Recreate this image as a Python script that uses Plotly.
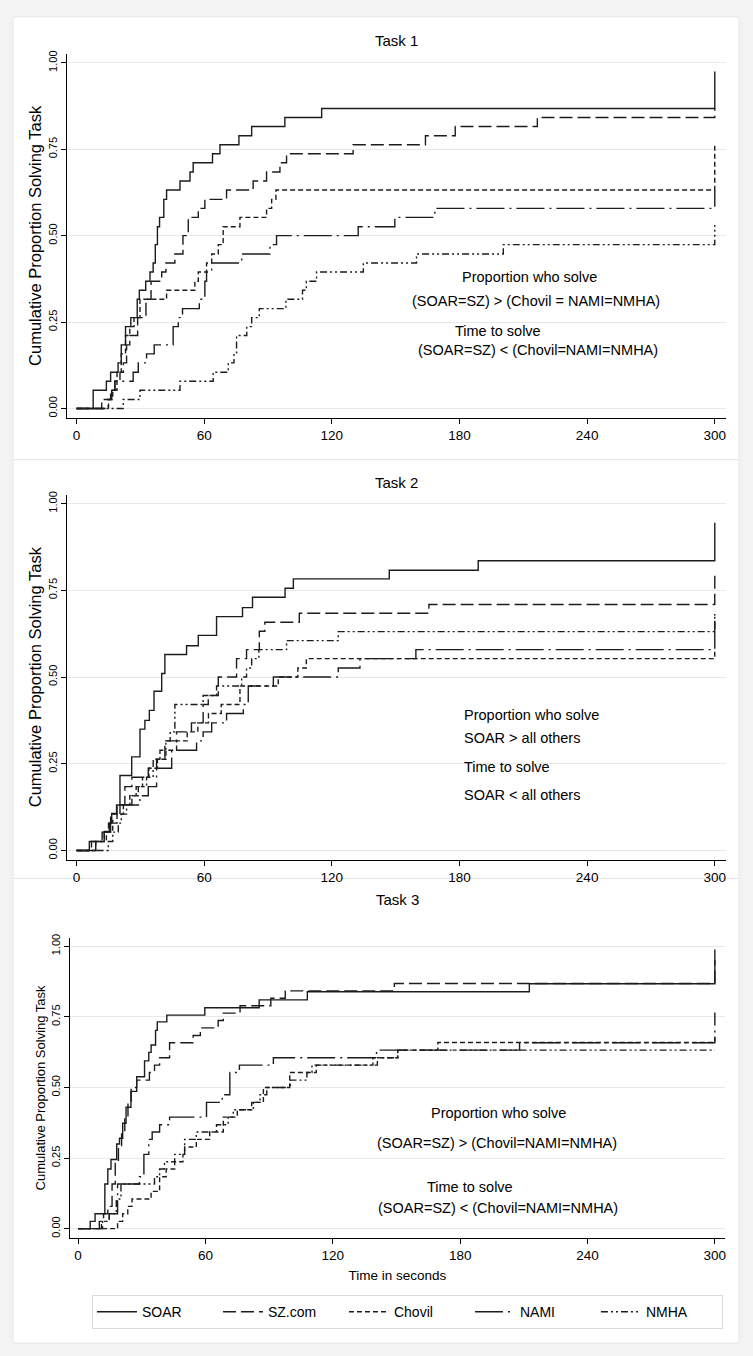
import plotly.graph_objects as go

W, H = 753, 1356
FONT = "Liberation Sans, Arial, sans-serif"
INK = "#1c1c1c"

def fx(px):
    return px / W

def fy(py):
    return 1 - py / H

SERIES = ["SOAR", "SZ.com", "Chovil", "NAMI", "NMHA"]
X_TICKS = [0, 60, 120, 180, 240, 300]
Y_TICKS = [0, 0.25, 0.5, 0.75, 1.0]
Y_TICK_TEXT = ["0.00", "0.25", "0.50", "0.75", "1.00"]
PANEL_TITLES = ["Task 1", "Task 2", "Task 3"]

# ---------------- Task 1 ----------------
T1_SOAR_t = [0, 7.8, 14, 16, 19.5, 21, 23, 25.5, 28.5, 29.5, 32.5, 34.5, 36, 37, 38, 39, 41, 42.3, 48.6, 53.3, 54.8, 63.9, 67.4, 76.3, 82.3, 97.9, 115.2, 300]
T1_SOAR_p = [0, 0.053, 0.079, 0.105, 0.132, 0.184, 0.237, 0.263, 0.316, 0.342, 0.368, 0.395, 0.421, 0.474, 0.526, 0.553, 0.605, 0.632, 0.658, 0.684, 0.711, 0.737, 0.763, 0.789, 0.816, 0.842, 0.868, 0.975]
T1_SZ_t = [0, 11.8, 16, 18, 20.4, 22, 23.5, 25, 28.7, 32.6, 35, 40, 42, 46.2, 50, 52.5, 57.2, 60.3, 70.5, 83, 89.3, 95.6, 98.7, 130, 164, 178, 216.6, 300]
T1_SZ_p = [0, 0.026, 0.053, 0.079, 0.105, 0.132, 0.184, 0.211, 0.263, 0.316, 0.368, 0.395, 0.421, 0.447, 0.5, 0.553, 0.579, 0.605, 0.632, 0.658, 0.684, 0.711, 0.737, 0.763, 0.789, 0.816, 0.842, 0.868]
T1_CH_t = [0, 15, 17, 19, 21, 23, 25, 27, 29.8, 42.3, 55.6, 57.2, 61.1, 63.5, 66.6, 68.9, 76.8, 89.3, 91.7, 93.7, 300]
T1_CH_p = [0, 0.026, 0.053, 0.105, 0.158, 0.211, 0.237, 0.263, 0.316, 0.342, 0.368, 0.395, 0.421, 0.447, 0.474, 0.526, 0.553, 0.579, 0.605, 0.632, 0.766]
T1_NA_t = [0, 14.9, 16.5, 18, 26.6, 29, 32.9, 36.5, 45.4, 47.8, 49.8, 57.7, 60.3, 61.1, 63.5, 77.6, 90.9, 94, 132.4, 149.6, 168.4, 300]
T1_NA_p = [0, 0.026, 0.053, 0.079, 0.105, 0.132, 0.158, 0.184, 0.237, 0.263, 0.289, 0.316, 0.368, 0.395, 0.421, 0.447, 0.474, 0.5, 0.526, 0.553, 0.579, 0.632]
T1_NM_t = [0, 21.9, 29.8, 48.6, 64.2, 71.3, 74, 75.2, 80, 82.3, 85.9, 98.4, 106.2, 108, 112.8, 134.8, 159.8, 200.6, 300]
T1_NM_p = [0, 0.026, 0.053, 0.079, 0.105, 0.132, 0.158, 0.211, 0.237, 0.263, 0.289, 0.316, 0.342, 0.368, 0.395, 0.421, 0.447, 0.474, 0.531]

# ---------------- Task 2 ----------------
T2_SOAR_t = [0, 6, 13, 15.4, 16.5, 18.8, 20.4, 25.9, 29.8, 32.1, 34.2, 36.4, 40, 41.5, 51.7, 57.2, 65.8, 78, 82.7, 98, 101.9, 147, 188.8, 300]
T2_SOAR_p = [0, 0.026, 0.055, 0.079, 0.107, 0.131, 0.216, 0.27, 0.35, 0.375, 0.404, 0.459, 0.51, 0.565, 0.59, 0.62, 0.674, 0.70, 0.73, 0.756, 0.783, 0.808, 0.835, 0.945]
T2_SZ_t = [0, 7, 12, 15, 17, 19, 22.7, 26, 33.7, 37.6, 41.5, 47, 54, 59.5, 61.9, 66.6, 75.2, 79.9, 85.9, 88.5, 104.7, 165.6, 300]
T2_SZ_p = [0, 0.026, 0.053, 0.079, 0.105, 0.132, 0.184, 0.211, 0.237, 0.263, 0.316, 0.342, 0.368, 0.421, 0.447, 0.5, 0.553, 0.579, 0.632, 0.658, 0.684, 0.709, 0.80]
T2_CH_t = [0, 9, 14, 17, 19, 22, 25, 28, 31, 34, 38, 42, 47, 52, 57, 62, 68, 76.8, 94.8, 104, 108, 300]
T2_CH_p = [0, 0.026, 0.053, 0.079, 0.105, 0.132, 0.158, 0.184, 0.211, 0.237, 0.263, 0.289, 0.316, 0.342, 0.368, 0.395, 0.421, 0.474, 0.5, 0.526, 0.553, 0.58]
T2_NA_t = [0, 9, 13, 16, 20.4, 29.8, 33.7, 37.6, 44.7, 56.4, 59.5, 63.5, 70.5, 78.4, 80.7, 92.5, 123, 133.2, 159.5, 300]
T2_NA_p = [0, 0.026, 0.053, 0.105, 0.131, 0.158, 0.184, 0.237, 0.289, 0.316, 0.342, 0.368, 0.395, 0.421, 0.474, 0.5, 0.526, 0.553, 0.579, 0.682]
T2_NM_t = [0, 14.9, 17, 19.6, 21, 23.5, 26, 29, 32.9, 36, 39.2, 42, 44, 46.2, 59.5, 65.8, 77.6, 79.9, 82.3, 85.7, 98.7, 123, 300]
T2_NM_p = [0, 0.026, 0.053, 0.079, 0.105, 0.132, 0.158, 0.184, 0.211, 0.263, 0.289, 0.316, 0.342, 0.421, 0.447, 0.474, 0.5, 0.526, 0.553, 0.579, 0.605, 0.631, 0.68]

# ---------------- Task 3 ----------------
T3_SOAR_t = [0, 5.7, 8, 12.6, 14, 15.5, 18.2, 19.5, 21, 22.6, 24.9, 27.6, 31.3, 33.3, 34.4, 36.5, 37.3, 41.8, 59.7, 85.3, 108, 212.6, 300]
T3_SOAR_p = [0, 0.026, 0.053, 0.158, 0.211, 0.245, 0.3, 0.32, 0.373, 0.43, 0.486, 0.538, 0.594, 0.624, 0.65, 0.702, 0.732, 0.756, 0.782, 0.81, 0.839, 0.867, 0.988]
T3_SZ_t = [0, 10, 12, 14, 16, 17.5, 19, 20.5, 22, 23.5, 25, 27.6, 33.6, 36, 38.4, 43.1, 54.2, 57.6, 66, 68.4, 76.3, 90.8, 97.6, 149, 300]
T3_SZ_p = [0, 0.026, 0.053, 0.079, 0.158, 0.237, 0.289, 0.342, 0.395, 0.447, 0.5, 0.526, 0.553, 0.579, 0.605, 0.658, 0.684, 0.711, 0.737, 0.763, 0.789, 0.816, 0.842, 0.868, 0.95]
T3_CH_t = [0, 18.6, 21, 23.4, 25.4, 34.4, 38.4, 41.5, 45.5, 49.4, 50.2, 55.7, 62, 68.4, 75, 81.8, 87.3, 99.7, 112.2, 138.9, 150.6, 169.5, 300]
T3_CH_p = [0, 0.026, 0.053, 0.079, 0.105, 0.132, 0.184, 0.211, 0.237, 0.263, 0.289, 0.316, 0.342, 0.395, 0.421, 0.447, 0.5, 0.553, 0.579, 0.605, 0.632, 0.659, 0.68]
T3_NA_t = [0, 11, 14.7, 18.6, 28.9, 31, 33.3, 34.9, 38.4, 43.1, 60.5, 67.9, 71.5, 76, 92, 140.6, 208, 300]
T3_NA_p = [0, 0.026, 0.053, 0.158, 0.184, 0.263, 0.316, 0.342, 0.368, 0.395, 0.447, 0.474, 0.553, 0.579, 0.605, 0.632, 0.658, 0.765]
T3_NM_t = [0, 11.5, 14.7, 18, 20.2, 36, 38.4, 40.7, 45.5, 50.2, 55.7, 65.2, 70.7, 73.1, 82.6, 85.7, 88.9, 100, 107.8, 110.2, 141, 150.6, 300]
T3_NM_p = [0, 0.026, 0.053, 0.105, 0.158, 0.184, 0.211, 0.237, 0.263, 0.316, 0.342, 0.368, 0.395, 0.421, 0.447, 0.474, 0.5, 0.526, 0.553, 0.579, 0.605, 0.632, 0.632]

PANELS = [
    [(T1_SOAR_t, T1_SOAR_p), (T1_SZ_t, T1_SZ_p), (T1_CH_t, T1_CH_p), (T1_NA_t, T1_NA_p), (T1_NM_t, T1_NM_p)],
    [(T2_SOAR_t, T2_SOAR_p), (T2_SZ_t, T2_SZ_p), (T2_CH_t, T2_CH_p), (T2_NA_t, T2_NA_p), (T2_NM_t, T2_NM_p)],
    [(T3_SOAR_t, T3_SOAR_p), (T3_SZ_t, T3_SZ_p), (T3_CH_t, T3_CH_p), (T3_NA_t, T3_NA_p), (T3_NM_t, T3_NM_p)],
]

DASHES = ["solid", "13px,5px", "5px,3px", "28px,5px,2px,5px", "7px,3px,2px,3px,2px,3px"]

fig = go.Figure()
axis_ids = [("x", "y"), ("x2", "y2"), ("x3", "y3")]
for pi, panel in enumerate(PANELS):
    xa, ya = axis_ids[pi]
    for si, (t, p) in enumerate(panel):
        fig.add_trace(go.Scatter(
            x=t, y=p, mode="lines", name=SERIES[si],
            legendgroup=SERIES[si], showlegend=(pi == 0),
            line=dict(shape="hv", color=INK, width=1.4, dash=DASHES[si]),
            xaxis=xa, yaxis=ya, hoverinfo="skip",
        ))

# pixel geometry of the three plot regions
GEOM = [
    dict(x0=67, x1=727, xr=[-4.55, 305.3], y0=50, y1=415, yr=[-0.0268, 1.026], ytf=16.5),
    dict(x0=67, x1=727, xr=[-4.55, 305.3], y0=492, y1=858.3, yr=[-0.0267, 1.026], ytf=16.5),
    dict(x0=70, x1=726, xr=[-3.86, 304.8], y0=936.5, y1=1237.7, yr=[-0.0332, 1.03], ytf=13),
]

layout_axes = {}
for i, g in enumerate(GEOM):
    sx = "" if i == 0 else str(i + 1)
    layout_axes["xaxis" + sx] = dict(
        domain=[fx(g["x0"]), fx(g["x1"])], range=g["xr"], anchor="y" + sx,
        tickvals=X_TICKS, ticks="outside", ticklen=5, tickcolor="black",
        showline=True, linecolor="black", linewidth=1, showgrid=False, zeroline=False,
        tickfont=dict(size=13.5, family=FONT, color="black"),
        title=dict(text="Time in seconds" if i == 2 else "",
                   font=dict(size=13.5, family=FONT, color="black"), standoff=8),
    )
    layout_axes["yaxis" + sx] = dict(
        domain=[fy(g["y1"]), fy(g["y0"])], range=g["yr"], anchor="x" + sx,
        tickvals=Y_TICKS, ticktext=Y_TICK_TEXT, tickangle=-90,
        ticks="outside", ticklen=5, tickcolor="black",
        showline=True, linecolor="black", linewidth=1,
        showgrid=True, gridcolor="#e9e9e9", gridwidth=1, zeroline=False,
        tickfont=dict(size=11, family=FONT, color="black"),
        title=dict(text="Cumulative Proportion Solving Task",
                   font=dict(size=g["ytf"], family=FONT, color="black"), standoff=0),
    )

annotations = []
for i, g in enumerate(GEOM):
    ty = [37, 480, 898][i]
    annotations.append(dict(text=PANEL_TITLES[i], x=fx((g["x0"] + g["x1"]) / 2), y=fy(ty),
                            xref="paper", yref="paper", showarrow=False,
                            font=dict(size=15, family=FONT, color="black"),
                            xanchor="center", yanchor="middle"))

NOTES = [
    ("Proportion who solve", 530, 274, "center"),
    ("(SOAR=SZ) &gt; (Chovil = NAMI=NMHA)", 536.7, 298.3, "center"),
    ("Time to solve", 498.8, 328.3, "center"),
    ("(SOAR=SZ) &lt; (Chovil=NAMI=NMHA)", 539, 346.7, "center"),
    ("Proportion who solve", 463, 712.7, "left"),
    ("SOAR &gt; all others", 463, 735.7, "left"),
    ("Time to solve", 463, 765.3, "left"),
    ("SOAR &lt; all others", 463, 793.3, "left"),
    ("Proportion who solve", 499.5, 1112, "center"),
    ("(SOAR=SZ) &gt; (Chovil=NAMI=NMHA)", 497.7, 1142.7, "center"),
    ("Time to solve", 470.5, 1186.7, "center"),
    ("(SOAR=SZ) &lt; (Chovil=NAMI=NMHA)", 499, 1207.3, "center"),
]
for text, x, y, anc in NOTES:
    annotations.append(dict(text=text, x=fx(x), y=fy(y), xref="paper", yref="paper",
                            showarrow=False, xanchor=anc, yanchor="middle",
                            font=dict(size=14.5, family=FONT, color="black")))

shapes = []
for (a, b) in [(13, 457), (457, 877), (877, 1343)]:
    shapes.append(dict(type="rect", xref="paper", yref="paper", layer="below",
                       x0=fx(13), x1=fx(740), y0=fy(b), y1=fy(a),
                       fillcolor="white", line=dict(color="#e6e6e6", width=1)))

fig.update_layout(
    width=W, height=H,
    margin=dict(l=0, r=0, t=0, b=0),
    paper_bgcolor="#f3f3f3", plot_bgcolor="white",
    font=dict(family=FONT, color="black"),
    annotations=annotations, shapes=shapes,
    legend=dict(orientation="h", x=fx(408), xanchor="center", y=fy(1295), yanchor="top",
                bgcolor="white", bordercolor="#dadada", borderwidth=1,
                font=dict(size=14, family=FONT, color="black"),
                itemwidth=40, entrywidth=71, entrywidthmode="pixels", tracegroupgap=0),
    **layout_axes,
)

fig.write_html(
    "out.html",
    config={"displayModeBar": False},
    post_script="document.body.style.margin='0px';document.body.style.overflow='hidden';",
)
